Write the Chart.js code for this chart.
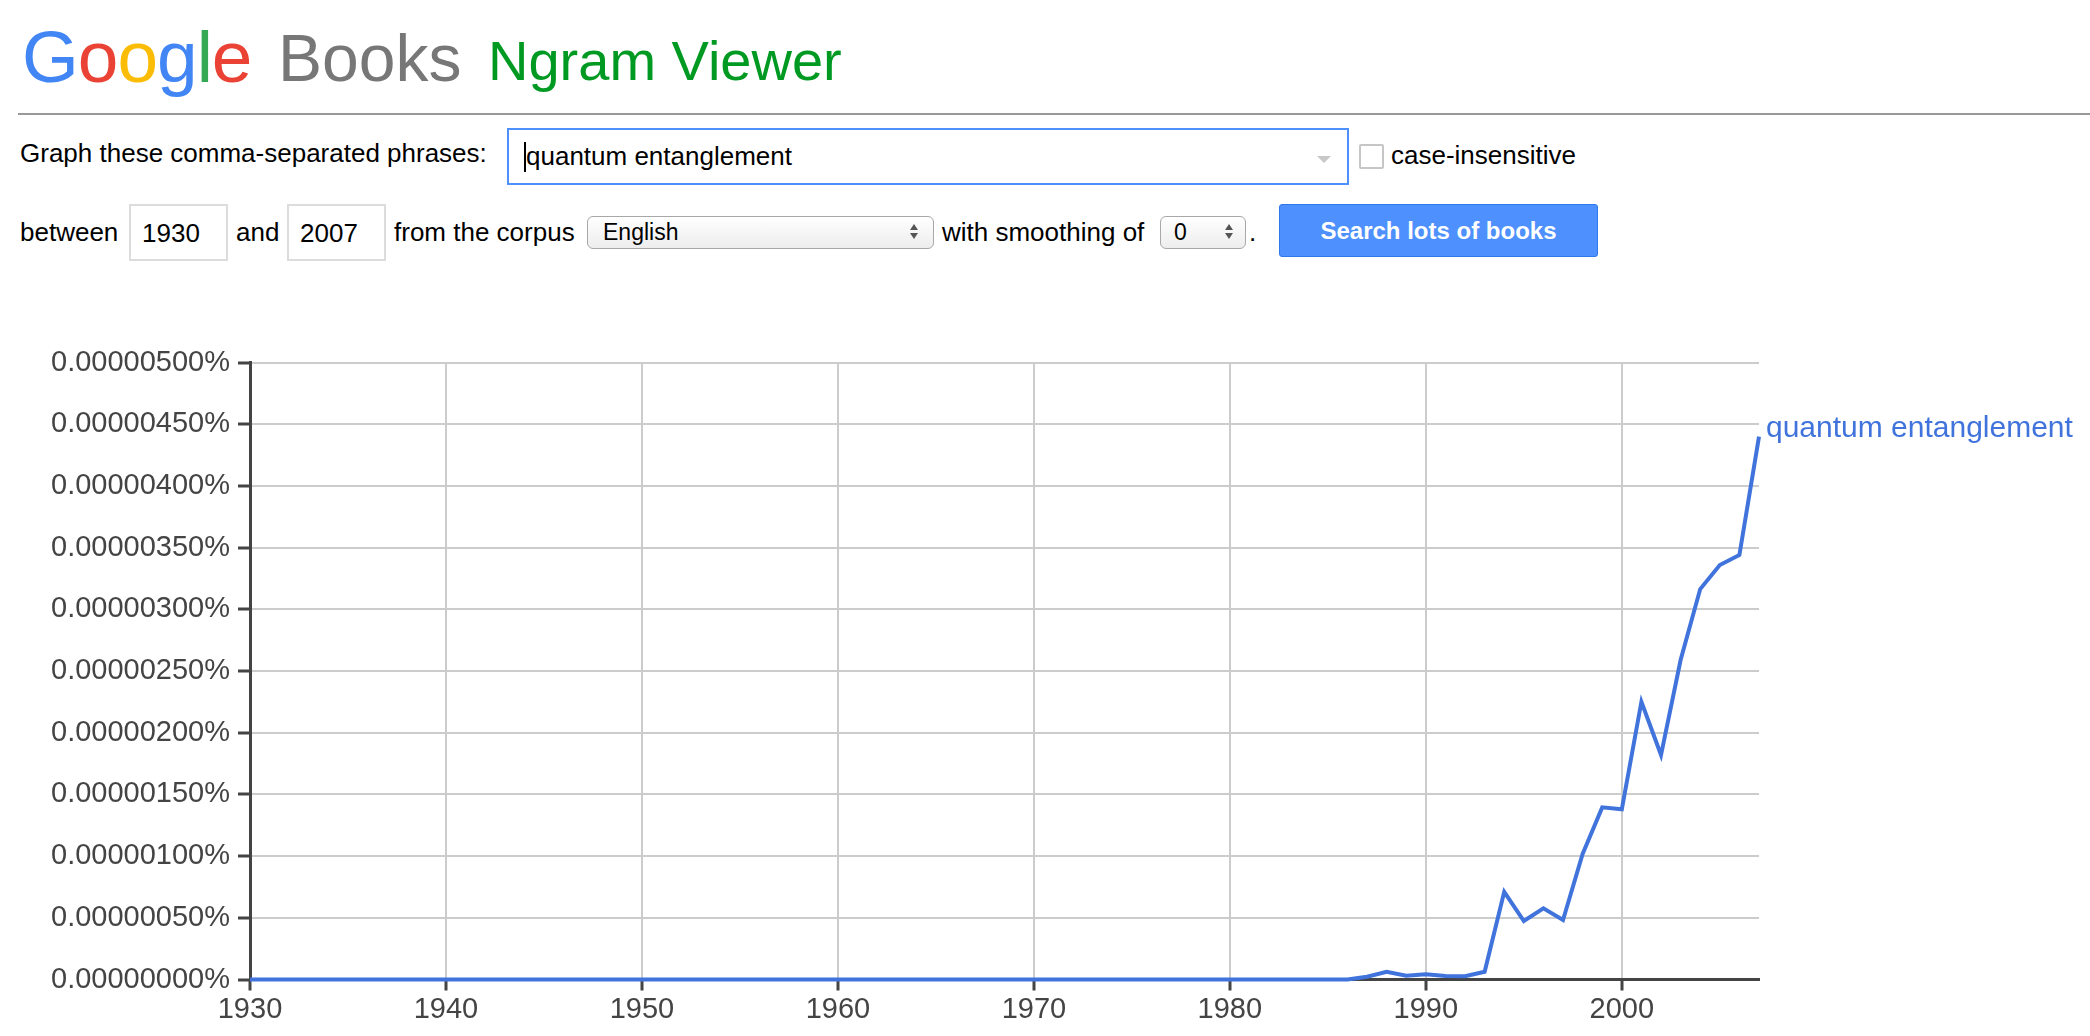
<!DOCTYPE html>
<html>
<head>
<meta charset="utf-8">
<title>Google Books Ngram Viewer</title>
<script src="https://cdn.jsdelivr.net/npm/chart.js@4.4.0/dist/chart.umd.min.js"></script>
<style>
  body { margin: 0; background: #fff; width: 2090px; height: 1036px; overflow: hidden; position: relative; }
  .t { position: absolute; white-space: nowrap; line-height: 1; font-family: "Liberation Sans", Arial, Helvetica, sans-serif; color: #000; }
  .box { position: absolute; box-sizing: border-box; background: #fff; }
  .sel { position: absolute; box-sizing: border-box; border: 1.5px solid #a8a8a8; border-radius: 6px; background: linear-gradient(#ffffff, #ededed); }
  .up, .down { position: absolute; width: 0; height: 0; border-left: 4px solid transparent; border-right: 4px solid transparent; }
  .up { border-bottom: 6px solid #555; }
  .down { border-top: 6px solid #555; }
  #chart { position: absolute; left: 0; top: 330px; }
</style>
</head>
<body>

<!-- header -->
<div class="t" style="left:22px; top:20px; font-size:73px; letter-spacing:-1px;"><span style="color:#4285f4">G</span><span style="color:#ea4335">o</span><span style="color:#fbbc05">o</span><span style="color:#4285f4">g</span><span style="color:#34a853">l</span><span style="color:#ea4335">e</span></div>
<div class="t" style="left:278px; top:25px; font-size:66px; color:#777;">Books</div>
<div class="t" style="left:488px; top:33px; font-size:56px; color:#009a22;">Ngram Viewer</div>
<div style="position:absolute; left:18px; right:0; top:113px; height:2px; background:#999;"></div>

<!-- form row 1 -->
<div class="t" style="left:20px; top:140px; font-size:26px;">Graph these comma-separated phrases:</div>
<div class="box" style="left:507px; top:128px; width:842px; height:57px; border:2px solid #4d90fe;"></div>
<div style="position:absolute; left:524px; top:142px; width:2px; height:30px; background:#000;"></div>
<div class="t" style="left:526px; top:143px; font-size:26px;">quantum entanglement</div>
<div style="position:absolute; left:1317px; top:156px; width:0; height:0; border-left:7px solid transparent; border-right:7px solid transparent; border-top:7px solid #c8c8c8;"></div>
<div class="box" style="left:1359px; top:144px; width:25px; height:25px; border:2px solid #c6c6c6; border-radius:2px;"></div>
<div class="t" style="left:1391px; top:142px; font-size:26px;">case-insensitive</div>

<!-- form row 2 -->
<div class="t" style="left:20px; top:219px; font-size:26px;">between</div>
<div class="box" style="left:129px; top:204px; width:99px; height:57px; border:2px solid #dcdcdc;"></div>
<div class="t" style="left:142px; top:220px; font-size:26px;">1930</div>
<div class="t" style="left:236px; top:219px; font-size:26px;">and</div>
<div class="box" style="left:287px; top:204px; width:99px; height:57px; border:2px solid #dcdcdc;"></div>
<div class="t" style="left:300px; top:220px; font-size:26px;">2007</div>
<div class="t" style="left:394px; top:219px; font-size:26px;">from the corpus</div>
<div class="sel" style="left:587px; top:216px; width:347px; height:33px;"></div>
<div class="t" style="left:603px; top:221px; font-size:23px;">English</div>
<div class="up" style="left:910px; top:224px;"></div>
<div class="down" style="left:910px; top:233px;"></div>
<div class="t" style="left:942px; top:219px; font-size:26px;">with smoothing of</div>
<div class="sel" style="left:1160px; top:216px; width:86px; height:33px;"></div>
<div class="t" style="left:1174px; top:221px; font-size:23px;">0</div>
<div class="up" style="left:1225px; top:224px;"></div>
<div class="down" style="left:1225px; top:233px;"></div>
<div class="t" style="left:1249px; top:219px; font-size:26px;">.</div>
<div style="position:absolute; left:1279px; top:204px; width:319px; height:53px; box-sizing:border-box; background:#4d90fe; border:1px solid #3079ed; border-radius:3px; display:flex; align-items:center; justify-content:center;">
  <span class="t" style="position:static; font-size:24px; font-weight:bold; color:#fff;">Search lots of books</span>
</div>

<canvas id="chart" width="2090" height="706"></canvas>

<script>
const phrase = 'quantum entanglement';
const lineColor = '#4073dc';

const years = [
  1930, 1931, 1932, 1933, 1934, 1935, 1936, 1937, 1938, 1939,
  1940, 1941, 1942, 1943, 1944, 1945, 1946, 1947, 1948, 1949,
  1950, 1951, 1952, 1953, 1954, 1955, 1956, 1957, 1958, 1959,
  1960, 1961, 1962, 1963, 1964, 1965, 1966, 1967, 1968, 1969,
  1970, 1971, 1972, 1973, 1974, 1975, 1976, 1977, 1978, 1979,
  1980, 1981, 1982, 1983, 1984, 1985, 1986, 1987, 1988, 1989,
  1990, 1991, 1992, 1993, 1994, 1995, 1996, 1997, 1998, 1999,
  2000, 2001, 2002, 2003, 2004, 2005, 2006, 2007
];

// frequency in percent
const frequency = [
  0, 0, 0, 0, 0, 0, 0, 0, 0, 0,
  0, 0, 0, 0, 0, 0, 0, 0, 0, 0,
  0, 0, 0, 0, 0, 0, 0, 0, 0, 0,
  0, 0, 0, 0, 0, 0, 0, 0, 0, 0,
  0, 0, 0, 0, 0, 0, 0, 0, 0, 0,
  0, 0, 0, 0, 0, 0, 0, 0.000000023, 0.000000063, 0.000000031,
  0.000000042, 0.000000028, 0.000000026, 0.000000063, 0.000000711, 0.000000474, 0.000000577, 0.000000482, 0.000001017, 0.000001395,
  0.000001379, 0.000002251, 0.000001819, 0.000002589, 0.000003164, 0.000003359, 0.00000344, 0.000004399
];

const xTicks = [1930, 1940, 1950, 1960, 1970, 1980, 1990, 2000];
const yTicks = [0, 0.0000005, 0.000001, 0.0000015, 0.000002, 0.0000025, 0.000003, 0.0000035, 0.000004, 0.0000045, 0.000005];
const yTickLabels = [
  '0.00000000%', '0.00000050%', '0.00000100%', '0.00000150%', '0.00000200%', '0.00000250%',
  '0.00000300%', '0.00000350%', '0.00000400%', '0.00000450%', '0.00000500%'
];

Chart.defaults.font.family = '"Liberation Sans", Arial, Helvetica, sans-serif';

// phrase label at the end of the line
const seriesLabel = {
  id: 'seriesLabel',
  afterDatasetsDraw(chart) {
    const meta = chart.getDatasetMeta(0);
    const last = meta.data[meta.data.length - 1];
    const ctx = chart.ctx;
    ctx.save();
    ctx.font = '30px "Liberation Sans", Arial, sans-serif';
    ctx.fillStyle = lineColor;
    ctx.textBaseline = 'middle';
    ctx.textAlign = 'left';
    ctx.fillText(phrase, chart.chartArea.right + 7, last.y - 8);
    ctx.restore();
  }
};

const ctx = document.getElementById('chart').getContext('2d');
new Chart(ctx, {
  type: 'line',
  data: {
    datasets: [{
      label: phrase,
      data: years.map((y, i) => ({ x: y, y: frequency[i] })),
      borderColor: lineColor,
      borderWidth: 4,
      pointRadius: 0,
      tension: 0,
      fill: false,
      clip: false
    }]
  },
  options: {
    responsive: false,
    animation: false,
    devicePixelRatio: 1,
    layout: { padding: { top: 32.5, right: 331, left: 0, bottom: 0 } },
    plugins: {
      legend: { display: false },
      tooltip: { enabled: false }
    },
    scales: {
      x: {
        type: 'linear',
        min: 1930,
        max: 2007,
        afterBuildTicks: s => { s.ticks = xTicks.map(v => ({ value: v })); },
        afterFit: s => { s.height = 56.5; },
        grid: { color: '#cccccc', lineWidth: 2, tickColor: '#444', tickWidth: 3, tickLength: 11 },
        border: { color: '#444', width: 3 },
        ticks: {
          color: '#444',
          font: { size: 29 },
          padding: 2,
          maxRotation: 0,
          callback: v => String(v)
        }
      },
      y: {
        min: 0,
        max: 0.000005,
        afterBuildTicks: s => { s.ticks = yTicks.map(v => ({ value: v })); },
        afterFit: s => { s.width = 250; },
        grid: { color: '#cccccc', lineWidth: 2, tickColor: '#444', tickWidth: 3, tickLength: 12 },
        border: { color: '#444', width: 3 },
        ticks: {
          color: '#444',
          font: { size: 29 },
          padding: 8,
          callback: (v, i) => yTickLabels[i]
        }
      }
    }
  },
  plugins: [seriesLabel]
});
</script>
</body>
</html>
